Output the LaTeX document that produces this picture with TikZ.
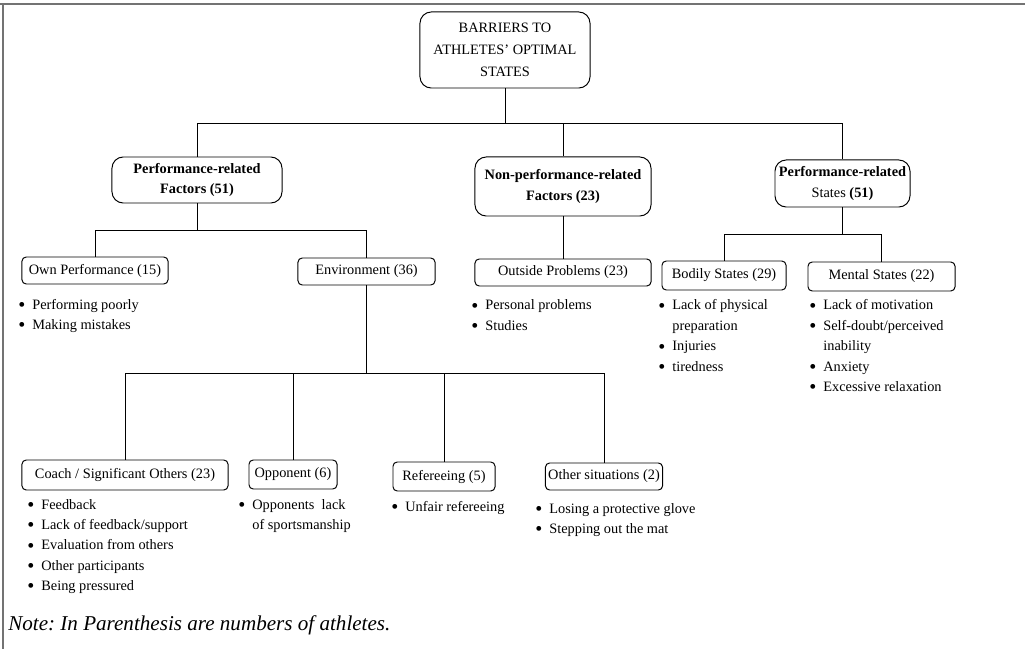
\documentclass[tikz,border=0pt]{standalone}
\usepackage{fontspec}
\setmainfont{Liberation Serif}
\usepackage{graphicx}
\usepackage{tikz}

\newcommand{\blist}[1]{{\renewcommand{\arraystretch}{1}\begin{tabular}[t]{@{}l@{}l@{}}#1\end{tabular}}}
\newcommand{\bul}{\makebox[10pt][l]{\raisebox{-1.6pt}{\scalebox{1.4}{\textbullet}}}}

\begin{document}
\begin{tikzpicture}[
    x=0.025cm, y=-0.025cm,
    every node/.style={font=\fontsize{10.2}{14.5}\selectfont},
    topbox/.style={draw, line width=0.7pt, rounded corners=8pt, align=center, inner sep=2pt},
    subbox/.style={draw, line width=0.7pt, rounded corners=3pt, align=center, inner sep=2pt},
    items/.style={anchor=base west, inner sep=0pt},
    link/.style={line width=0.7pt},
    frame/.style={draw=black!55, line width=1.3pt},
]
\useasboundingbox (0,0) rectangle (1025,649);
\draw[frame] (0,4) -- (1025,4);
\draw[frame] (3,4) -- (3,649);

% main heading
\node[topbox, minimum width=4.25cm, minimum height=1.9cm, font=\fontsize{10.2}{15.6}\selectfont] (root) at (505,50) {BARRIERS TO\\ATHLETES' OPTIMAL\\STATES};

% first level
\node[topbox, minimum width=4.25cm, minimum height=1.15cm] (pf) at (197,180) {\textbf{Performance-related}\\\textbf{Factors (51)}};
\node[topbox, minimum width=4.4cm, minimum height=1.475cm] (npf) at (563,186.5) {\textbf{Non-performance-related}\\\textbf{Factors (23)}};
\node[topbox, minimum width=3.375cm, minimum height=1.175cm] (ps) at (842.5,183.5) {\textbf{Performance-related}\\States \textbf{(51)}};

% second level
\node[subbox, minimum width=3.65cm, minimum height=0.675cm] (own) at (95,270.5) {Own Performance (15)};
\node[subbox, minimum width=3.425cm, minimum height=0.675cm] (env) at (366.5,271.5) {Environment (36)};
\node[subbox, minimum width=4.4cm, minimum height=0.675cm] (outp) at (563,272.5) {Outside Problems (23)};
\node[subbox, minimum width=3.1cm, minimum height=0.725cm] (body) at (724,275.5) {Bodily States (29)};
\node[subbox, minimum width=3.675cm, minimum height=0.725cm] (ment) at (881.5,276.5) {Mental States (22)};

% third level
\node[subbox, minimum width=5.15cm, minimum height=0.75cm] (coach) at (125,475) {Coach / Significant Others (23)};
\node[subbox, minimum width=2.2cm, minimum height=0.725cm] (opp) at (293,474.5) {Opponent (6)};
\node[subbox, minimum width=2.55cm, minimum height=0.725cm] (refe) at (444,476.5) {Refereeing (5)};
\node[subbox, minimum width=2.9cm, minimum height=0.675cm] (oth) at (604,476.5) {Other situations (2)};

% connectors
\coordinate (lv1) at (0,123);
\coordinate (lv2) at (0,230);
\coordinate (lv2b) at (0,234);
\coordinate (lv3) at (0,373);
\draw[link] (root.south) -- (root.south |- lv1) -| (pf.north);
\draw[link] (root.south |- lv1) -| (npf.north);
\draw[link] (root.south |- lv1) -| (ps.north);
\draw[link] (pf.south) -- (pf.south |- lv2) -| (own.north);
\draw[link] (pf.south |- lv2) -| (env.north);
\draw[link] (npf.south) -- (outp.north);
\draw[link] (ps.south) -- (ps.south |- lv2b) -| (body.north);
\draw[link] (ps.south |- lv2b) -| (ment.north);
\draw[link] (env.south) -- (env.south |- lv3) -| (coach.north);
\draw[link] (env.south |- lv3) -| (opp.north);
\draw[link] (env.south |- lv3) -| (refe.north);
\draw[link] (env.south |- lv3) -| (oth.north);

% bullet lists
\node[items] (own-l) at (18,309) {\blist{\bul & Performing poorly\\ \bul & Making mistakes}};
\node[items] (outp-l) at (471,310) {\blist{\bul & Personal problems\\ \bul & Studies}};
\node[items] (body-l) at (658,310) {\blist{\bul & Lack of physical\\ & preparation\\ \bul & Injuries\\ \bul & tiredness}};
\node[items] (ment-l) at (809,310) {\blist{\bul & Lack of motivation\\ \bul & Self-doubt/perceived\\ & inability\\ \bul & Anxiety\\ \bul & Excessive relaxation}};
\node[items] (coach-l) at (27,509) {\blist{\bul & Feedback\\ \bul & Lack of feedback/support\\ \bul & Evaluation from others\\ \bul & Other participants\\ \bul & Being pressured}};
\node[items] (opp-l) at (238,509) {\blist{\bul & Opponents\ \ lack\\ & of sportsmanship}};
\node[items] (refe-l) at (391,511) {\blist{\bul & Unfair refereeing}};
\node[items] (oth-l) at (535,513) {\blist{\bul & Losing a protective glove\\ \bul & Stepping out the mat}};

% note
\node[anchor=base west, inner sep=0pt, font=\fontsize{15}{18}\selectfont\itshape] (note) at (8,630) {Note:\ In Parenthesis are numbers of athletes.};
\end{tikzpicture}
\end{document}
